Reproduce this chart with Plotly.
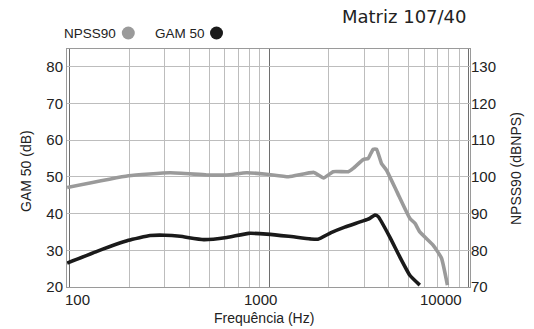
import math
import plotly.graph_objects as go

# ---- data ----
freq_gam = [97, 137, 197, 253, 300, 358, 470, 614, 790, 974, 1255, 1611, 1760, 2050, 2400, 2970, 3208, 3399, 3531, 4041, 4536, 5092, 5714]
gam50 = [26.5, 29.7, 32.7, 34.0, 34.1, 33.8, 32.9, 33.5, 34.6, 34.4, 33.8, 33.1, 33.0, 34.8, 36.3, 38.0, 38.7, 39.6, 39.2, 33.6, 28.2, 23.2, 20.5]

freq_npss = [97, 197, 319, 487, 614, 773, 974, 1255, 1680, 1880, 2100, 2497, 2646, 2970, 3147, 3333, 3466, 3672, 3890, 4390, 5092, 5410, 5714, 6662, 7339, 7867]
npss90 = [97.1, 100.3, 101.1, 100.5, 100.5, 101.1, 100.7, 100.0, 101.2, 99.7, 101.4, 101.4, 102.3, 104.7, 105.0, 107.5, 107.5, 103.6, 101.8, 95.9, 88.7, 87.3, 85.0, 81.4, 77.9, 70.5]

x_ticks = [100, 1000, 10000]
x_tick_labels = ["100", "1000", "10000"]
x_minor = [200, 300, 400, 500, 600, 700, 800, 900, 2000, 3000, 4000, 5000, 6000, 7000, 8000, 9000]
y_left_ticks = [20, 30, 40, 50, 60, 70, 80]
y_right_ticks = [70, 80, 90, 100, 110, 120, 130]

title_text = "Matriz 107/40"
FONT = "Liberation Sans, Arial, Helvetica, sans-serif"
GRID = "#bdbdbd"
GRAY = "#9a9a9a"
BLACK = "#1a1a1a"

W, H = 534, 329
ml, mr, mt, mb = 67, 64, 49, 42
pw, ph = W - ml - mr, H - mt - mb

def px2paper(px, py):
    return (px - ml) / pw, (H - mb - py) / ph

fig = go.Figure()
fig.add_trace(go.Scatter(x=freq_npss, y=npss90, yaxis="y2", mode="lines",
                         line=dict(color=GRAY, width=3.6, shape="spline", smoothing=0.4),
                         name="NPSS90", showlegend=False, hoverinfo="skip"))
fig.add_trace(go.Scatter(x=freq_gam, y=gam50, mode="lines",
                         line=dict(color=BLACK, width=3.6, shape="spline", smoothing=0.4),
                         name="GAM 50", showlegend=False, hoverinfo="skip"))

fig.update_layout(
    width=W, height=H,
    margin=dict(l=ml, r=mr, t=mt, b=mb),
    paper_bgcolor="white", plot_bgcolor="white",
    font=dict(family=FONT, color="#222222"),
    xaxis=dict(type="log", range=[1.986, 4.009],
               tickvals=x_ticks, showticklabels=False,
               ticks="", showgrid=True, gridcolor="#6e6e6e", gridwidth=1,
               minor=dict(tickvals=x_minor, showgrid=True, gridcolor=GRID, gridwidth=1, ticks=""),
               showline=True, linecolor=GRAY, linewidth=1, mirror=True, zeroline=False),
    yaxis=dict(range=[20, 84.8], tickvals=y_left_ticks, tickfont=dict(size=15),
               ticks="", showgrid=True, gridcolor=GRID, gridwidth=1,
               showline=True, linecolor=GRAY, linewidth=1, mirror=True, zeroline=False),
    yaxis2=dict(range=[70, 134.8], tickvals=y_right_ticks, tickfont=dict(size=15),
                overlaying="y", side="right", ticks="", showgrid=False, zeroline=False,
                showline=False),
)

anns = []
# x tick labels (placed as in the reference, slightly offset from gridlines)
_, ty = px2paper(0, 299)
for v, lab, sh in zip(x_ticks, x_tick_labels, [8, -9, -27]):
    anns.append(dict(text=lab, x=math.log10(v), y=ty, xref="x", yref="paper", xshift=sh,
                     showarrow=False, font=dict(size=15), xanchor="center", yanchor="middle"))
# axis titles
x, y = px2paper(264, 318)
anns.append(dict(text="Frequência (Hz)", x=x, y=y, xref="paper", yref="paper",
                 showarrow=False, font=dict(size=14), xanchor="center", yanchor="middle"))
x, y = px2paper(26, 171)
anns.append(dict(text="GAM 50 (dB)", x=x, y=y, xref="paper", yref="paper", textangle=-90,
                 showarrow=False, font=dict(size=14), xanchor="center", yanchor="middle"))
x, y = px2paper(516, 169)
anns.append(dict(text="NPSS90 (dBNPS)", x=x, y=y, xref="paper", yref="paper", textangle=-90,
                 showarrow=False, font=dict(size=14), xanchor="center", yanchor="middle"))
# title
x, y = px2paper(469, 16)
anns.append(dict(text=title_text, x=x, y=y, xref="paper", yref="paper",
                 showarrow=False, font=dict(size=18, family="DejaVu Sans, " + FONT), xanchor="right", yanchor="middle"))
# legend
x, y = px2paper(118, 33)
anns.append(dict(text="NPSS90", x=x, y=y, xref="paper", yref="paper",
                 showarrow=False, font=dict(size=13.5), xanchor="right", yanchor="middle"))
x, y = px2paper(207, 33)
anns.append(dict(text="GAM 50", x=x, y=y, xref="paper", yref="paper",
                 showarrow=False, font=dict(size=13.5), xanchor="right", yanchor="middle"))
fig.update_layout(annotations=anns)

shapes = []
for cx, col in [(128.3, GRAY), (216.5, BLACK)]:
    x, y = px2paper(cx, 33)
    shapes.append(dict(type="circle", xref="paper", yref="paper", xsizemode="pixel", ysizemode="pixel",
                       xanchor=x, yanchor=y, x0=-6.5, x1=6.5, y0=-6.5, y1=6.5,
                       fillcolor=col, line=dict(width=0)))
fig.update_layout(shapes=shapes)

fig.write_html("out.html", config={"displayModeBar": False},
               post_script="document.body.style.margin='0';document.body.style.overflow='hidden';")
